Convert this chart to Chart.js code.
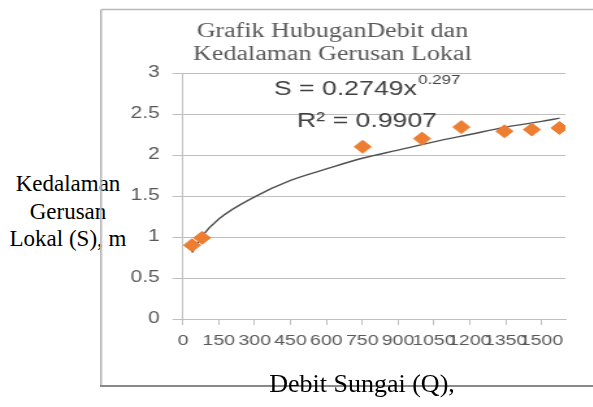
<!DOCTYPE html>
<html>
<head>
<meta charset="utf-8">
<script src="https://cdn.jsdelivr.net/npm/chart.js@4.4.1/dist/chart.umd.min.js"></script>
<style>
  html, body { margin: 0; padding: 0; background: #fff; overflow: hidden; width: 593px; height: 407px; }
  #wrap { position: absolute; left: 100px; top: 0; width: 380px; height: 407px; transform: scaleX(1.3); transform-origin: 0 0; }
  .ttl { position: absolute; font-family: "Liberation Serif", "Times New Roman", serif; color: #000; text-align: center; white-space: nowrap; }
  #ytitle { left: 0; top: 170px; width: 136px; font-size: 23px; line-height: 27.5px; }
  #xtitle { left: 260px; top: 369px; width: 204px; font-size: 26px; line-height: 30px; }
</style>
</head>
<body>
<div id="ytitle" class="ttl">Kedalaman<br>Gerusan<br>Lokal (S), m</div>
<div id="wrap"><canvas id="c"></canvas></div>
<div id="xtitle" class="ttl">Debit Sungai (Q),</div>
<script>
// ---- data ----
const debitQ = [38, 80, 752, 1000, 1165, 1345, 1460, 1575];
const depthS = [0.90, 0.99, 2.10, 2.20, 2.34, 2.29, 2.31, 2.33];
// trendline as it appears in the picture (power trendline S = 0.2749x^0.297)
const trendQ = [38, 80, 150, 300, 450, 600, 750, 900, 1050, 1200, 1350, 1500, 1576];
const trendS = [0.81, 1.01, 1.22, 1.49, 1.69, 1.83, 1.96, 2.06, 2.16, 2.25, 2.34, 2.41, 2.45];
const titleLines = ["Grafik HubuganDebit dan", "Kedalaman Gerusan Lokal"];
const eqMain = "S = 0.2749x";
const eqSup = "0.297";
const r2Text = "R\u00B2 = 0.9907";
const xMin = 0, xMax = 1600, xStep = 150;
const yMin = 0, yMax = 3, yStep = 0.5;

const pts = debitQ.map((q, i) => ({x: q, y: depthS[i]}));
const trend = trendQ.map((q, i) => ({x: q, y: trendS[i]}));

const decor = {
  id: 'decor',
  beforeDraw(chart) {
    const ctx = chart.ctx;
    ctx.save();
    ctx.strokeStyle = '#b8b8b8';
    ctx.lineWidth = 1.5;
    ctx.beginPath();
    ctx.moveTo(0.8, 9.5); ctx.lineTo(chart.width, 9.5);
    ctx.moveTo(0.8, 9.5); ctx.lineTo(0.8, 386);
    ctx.stroke();
    ctx.strokeStyle = '#8a8a8a';
    ctx.lineWidth = 2;
    ctx.beginPath();
    ctx.moveTo(0, 386); ctx.lineTo(chart.width, 386);
    ctx.stroke();
    ctx.restore();
  },
  afterDraw(chart) {
    const ctx = chart.ctx;
    ctx.save();
    ctx.fillStyle = '#595959';
    ctx.font = '20px "Liberation Serif", serif';
    ctx.textAlign = 'center';
    ctx.textBaseline = 'middle';
    ctx.fillText(titleLines[0], 178.8, 32);
    ctx.fillText(titleLines[1], 178.8, 55);
    // equation
    ctx.fillStyle = '#404040';
    ctx.textAlign = 'left';
    ctx.textBaseline = 'alphabetic';
    const fMain = '20.5px "Liberation Sans", Arial, sans-serif';
    const fSup = '13px "Liberation Sans", Arial, sans-serif';
    ctx.font = fMain;
    const wMain = ctx.measureText(eqMain).width;
    ctx.font = fSup;
    const wSup = ctx.measureText(eqSup).width;
    let x0 = 205 - (wMain + wSup) / 2;
    ctx.font = fMain;
    ctx.fillText(eqMain, x0, 95);
    ctx.font = fSup;
    ctx.fillText(eqSup, x0 + wMain + 1, 84);
    ctx.font = fMain;
    ctx.textAlign = 'center';
    ctx.fillText(r2Text, 205.4, 127);
    ctx.restore();
  }
};

const plainNum = v => String(Math.round(v * 100) / 100);

new Chart(document.getElementById('c'), {
  type: 'scatter',
  data: {
    datasets: [
      {
        type: 'line',
        data: trend,
        borderColor: '#505050',
        borderWidth: 1.4,
        pointRadius: 0,
        fill: false,
        cubicInterpolationMode: 'monotone',
        order: 2
      },
      {
        type: 'scatter',
        data: pts,
        backgroundColor: '#ED7D31',
        borderColor: '#ED7D31',
        pointStyle: 'rectRot',
        pointRadius: 6.5,
        order: 1
      }
    ]
  },
  options: {
    responsive: true,
    maintainAspectRatio: false,
    animation: false,
    devicePixelRatio: 1,
    layout: { padding: { top: 73, right: 22, left: 0, bottom: 0 } },
    plugins: { legend: { display: false }, tooltip: { enabled: false }, title: { display: false } },
    scales: {
      x: {
        type: 'linear',
        min: xMin, max: xMax,
        ticks: {
          stepSize: xStep, includeBounds: false, autoSkip: false, maxRotation: 0, minRotation: 0,
          callback: plainNum,
          color: '#595959', font: { family: '"Liberation Sans", Arial, sans-serif', size: 15 }, padding: 7
        },
        grid: { drawOnChartArea: false, drawTicks: true, tickLength: 6, color: '#bfbfbf' },
        border: { color: '#bfbfbf', width: 1 },
        afterFit(s) { s.height = 88; }
      },
      y: {
        min: yMin, max: yMax,
        ticks: {
          stepSize: yStep, color: '#595959', callback: plainNum,
          font: { family: '"Liberation Sans", Arial, sans-serif', size: 16 }, padding: 10
        },
        grid: { color: '#bfbfbf', tickLength: 8 },
        border: { color: '#bfbfbf', width: 1 },
        afterFit(s) { s.width = 63.8; }
      }
    }
  },
  plugins: [decor]
});
</script>
</body>
</html>
